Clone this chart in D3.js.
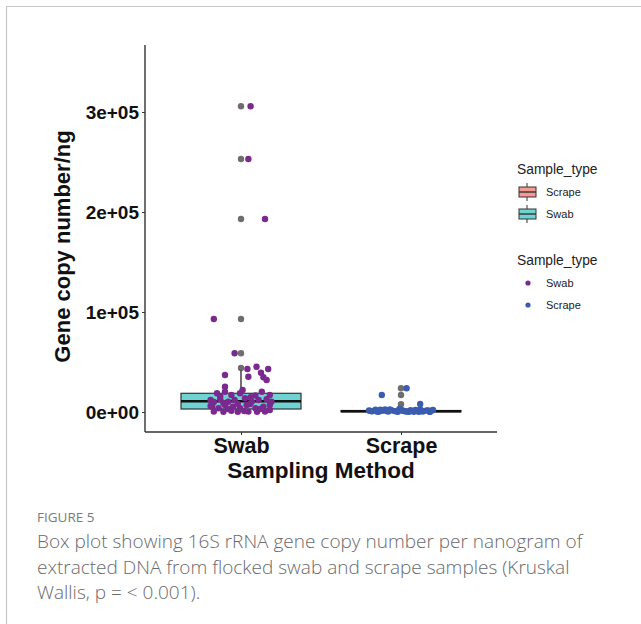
<!DOCTYPE html>
<html>
<head>
<meta charset="utf-8">
<script src="https://cdn.jsdelivr.net/npm/d3@7"></script>
<style>
  html, body { margin: 0; padding: 0; background: #fff; }
  svg { display: block; }
</style>
</head>
<body>
<svg id="chart" width="641" height="624"></svg>
<script>
// Categories on the x axis (left to right)
const categories = ["Swab", "Scrape"];

// Box statistics per sampling method (gene copies / ng)
const boxStats = [
  { method: "Swab",   q1: 3000, median: 10700, q3: 18700, lower: 0, upper: 41500 },
  { method: "Scrape", q1: 200,  median: 700,   q3: 1500,  lower: 0, upper: 3200 }
];

// Outliers flagged by the boxplot
const swabOutliers   = [305700, 253000, 193000, 93000, 58700, 44000];
const scrapeOutliers = [23700, 17000, 7800];

// Individual samples: value and horizontal jitter (in category units)
const swabValues = [305700, 253000, 193000, 93000, 58700, 43000, 45300, 39300, 43000, 37000,
  35300, 32000, 34700, 25300, 18700, 20300, 17000, 18700, 20300, 17000,
  12000, 12700, 10300, 12000, 13700, 10300, 12000, 12700, 10300, 5300,
  3700, 7000, 5300, 3700, 7000, 3700, 5300, 7000, 400, 200,
  1300, 200, 400, 200, 400, 10000, 22000, 16500, 8000, 15800,
  3000, 3000, 8000, 1000, 6000, 2000, 14800, 9000];
const swabJitter = [0.06, 0.046, 0.15, -0.17, -0.04, 0.04, 0.097, 0.125, 0.17, -0.10,
  0.046, 0.16, 0.14, -0.10, -0.15, -0.10, -0.06, -0.006, 0.13, 0.18,
  -0.19, -0.13, -0.08, -0.04, 0.025, 0.067, 0.11, 0.16, 0.19, -0.18,
  -0.14, -0.10, -0.05, -0.006, 0.035, 0.09, 0.14, 0.18, -0.17, -0.11,
  -0.06, -0.02, 0.046, 0.10, 0.15, -0.17, 0.01, 0.09, -0.02, -0.13,
  0.12, -0.08, 0.056, 0.02, -0.19, 0.18, 0.06, -0.11];

const scrapeValues = [23700, 17000, 8000, 1500, 800, 2200, 300, 1200, 2600, 500,
  1800, 900, 200, 2400, 1100, 600, 1900, 300, 1400, 2800,
  700, 1600, 100, 2100, 1000, 400, 1700, 2500, 800, 1300,
  200, 2000, 600, 1500, 3000, 900, 300, 1200, 2300, 500];
const scrapeJitter = [0.035, -0.12, 0.12, -0.20, -0.18, -0.16, -0.14, -0.12, -0.10, -0.08,
  -0.06, -0.04, -0.02, 0.0, 0.02, 0.04, 0.06, 0.08, 0.10, 0.12,
  0.14, 0.16, 0.18, 0.20, -0.19, -0.15, -0.11, -0.07, -0.03, 0.01,
  0.05, 0.09, 0.13, 0.17, -0.01, -0.09, 0.11, 0.19, -0.13, 0.03];

// y-axis tick values and labels
const yTicks = [0, 100000, 200000, 300000];
const yTickLabels = ["0e+00", "1e+05", "2e+05", "3e+05"];

// Legend entries
const boxLegend = ["Scrape", "Swab"];
const pointLegend = ["Swab", "Scrape"];

const boxFill   = { Swab: "#6FD3D3", Scrape: "#F49A96" };
const pointFill = { Swab: "#7A2A8E", Scrape: "#3B5DAF" };
const outlierFill = "#6E6E6E";

const captionLines = [
  "Box plot showing 16S rRNA gene copy number per nanogram of",
  "extracted DNA from flocked swab and scrape samples (Kruskal",
  "Wallis, p = < 0.001)."
];

const svg = d3.select("#chart");
const sans = "Liberation Sans, Arial, sans-serif";

// Figure frame
svg.append("path")
  .attr("d", "M6.5,700 V6.5 H700")
  .attr("fill", "none").attr("stroke", "#c8c8c8").attr("stroke-width", 1.2);

// Panel geometry
const panel = { left: 145, right: 497, top: 45, bottom: 432 };

// Discrete x scale with 0.6 category units of space at each end
const x = d3.scalePoint()
  .domain(categories)
  .range([panel.left, panel.right])
  .padding(0.6);
const step = x.step();

const y = d3.scaleLinear()
  .domain([-20000, 367000])
  .range([panel.bottom, panel.top]);

// Axes
const yAxis = d3.axisLeft(y)
  .tickValues(yTicks)
  .tickFormat((d, i) => yTickLabels[i])
  .tickSize(3).tickPadding(3);

const xAxis = d3.axisBottom(x).tickSize(3).tickPadding(3);

const gy = svg.append("g")
  .attr("transform", `translate(${panel.left},0)`)
  .call(yAxis);
gy.select(".domain").attr("d", `M0,${panel.top}V${panel.bottom}`).attr("stroke", "#333").attr("stroke-width", 1.4);
gy.selectAll(".tick line").attr("stroke", "#333");
gy.selectAll(".tick text")
  .attr("font-family", sans)
  .attr("font-weight", "bold").attr("font-size", 19).attr("fill", "#111");

const gx = svg.append("g")
  .attr("transform", `translate(0,${panel.bottom})`)
  .call(xAxis);
gx.select(".domain").attr("d", `M${panel.left},0H${panel.right}`).attr("stroke", "#333").attr("stroke-width", 1.4);
gx.selectAll(".tick line").attr("stroke", "#333");
gx.selectAll(".tick text")
  .attr("font-family", sans)
  .attr("font-weight", "bold").attr("font-size", 21.5).attr("fill", "#111")
  .attr("dy", "0.72em");

// Axis titles
svg.append("text")
  .attr("transform", `translate(70,${(panel.top + panel.bottom) / 2 + 8}) rotate(-90)`)
  .attr("text-anchor", "middle")
  .attr("font-family", sans)
  .attr("font-weight", "bold").attr("font-size", 22).attr("fill", "#111")
  .text("Gene copy number/ng");

svg.append("text")
  .attr("x", (panel.left + panel.right) / 2)
  .attr("y", 478)
  .attr("text-anchor", "middle")
  .attr("font-family", sans)
  .attr("font-weight", "bold").attr("font-size", 22.5).attr("fill", "#111")
  .text("Sampling Method");

// Boxplots
const boxW = 0.75 * step;
const plot = svg.append("g");

const outliers = { Swab: swabOutliers, Scrape: scrapeOutliers };

boxStats.forEach(b => {
  const cx = x(b.method);
  const g = plot.append("g");
  // outliers
  g.selectAll("circle.out").data(outliers[b.method]).join("circle")
    .attr("class", "out")
    .attr("cx", cx).attr("cy", d => y(d)).attr("r", 3.2)
    .attr("fill", outlierFill);
  // whiskers
  g.append("line").attr("x1", cx).attr("x2", cx)
    .attr("y1", y(b.q3)).attr("y2", y(b.upper))
    .attr("stroke", "#222").attr("stroke-width", 1.3);
  g.append("line").attr("x1", cx).attr("x2", cx)
    .attr("y1", y(b.q1)).attr("y2", y(b.lower))
    .attr("stroke", "#222").attr("stroke-width", 1.3);
  // box
  g.append("rect")
    .attr("x", cx - boxW / 2).attr("width", boxW)
    .attr("y", y(b.q3)).attr("height", Math.max(0, y(b.q1) - y(b.q3)))
    .attr("fill", boxFill[b.method]).attr("stroke", "#333").attr("stroke-width", 1.2);
  // median
  g.append("line")
    .attr("x1", cx - boxW / 2).attr("x2", cx + boxW / 2)
    .attr("y1", y(b.median)).attr("y2", y(b.median))
    .attr("stroke", "#111").attr("stroke-width", 2.6);
});

// Jittered sample points
const pts = [];
swabValues.forEach((v, i) => pts.push({ m: "Swab", v, j: swabJitter[i] }));
scrapeValues.forEach((v, i) => pts.push({ m: "Scrape", v, j: scrapeJitter[i] }));

plot.selectAll("circle.pt").data(pts).join("circle")
  .attr("class", "pt")
  .attr("cx", d => x(d.m) + d.j * step)
  .attr("cy", d => y(d.v))
  .attr("r", 3.2)
  .attr("fill", d => pointFill[d.m]);

// Legends
const lg = svg.append("g").attr("font-family", sans);
lg.append("text").attr("x", 517).attr("y", 174).attr("font-size", 13.8).attr("fill", "#222").text("Sample_type");
boxLegend.forEach((k, i) => {
  const ky = 185 + i * 22;
  const kg = lg.append("g");
  kg.append("line").attr("x1", 527).attr("x2", 527).attr("y1", ky - 2).attr("y2", ky + 16).attr("stroke", "#333").attr("stroke-width", 1);
  kg.append("rect").attr("x", 519).attr("y", ky + 2).attr("width", 17).attr("height", 10)
    .attr("fill", boxFill[k]).attr("stroke", "#333").attr("stroke-width", 1);
  kg.append("line").attr("x1", 519).attr("x2", 536).attr("y1", ky + 7).attr("y2", ky + 7).attr("stroke", "#333").attr("stroke-width", 1.4);
  kg.append("text").attr("x", 546).attr("y", ky + 11).attr("font-size", 11).attr("fill", "#222").text(k);
});

lg.append("text").attr("x", 517).attr("y", 265).attr("font-size", 13.8).attr("fill", "#222").text("Sample_type");
pointLegend.forEach((k, i) => {
  const ky = 283 + i * 22;
  lg.append("circle").attr("cx", 528).attr("cy", ky).attr("r", 2.6).attr("fill", pointFill[k]);
  lg.append("text").attr("x", 546).attr("y", ky + 4).attr("font-size", 11).attr("fill", "#222").text(k);
});

// Caption
const cap = svg.append("g").attr("font-family", "'Open Sans', Lato, sans-serif");
cap.append("text").attr("x", 37).attr("y", 522).attr("font-size", 13.5).attr("fill", "#7a7a7a").text("FIGURE 5");
captionLines.forEach((t, i) => {
  cap.append("text").attr("x", 37).attr("y", 548 + i * 25.5)
    .attr("font-size", 19).attr("font-weight", 300).attr("fill", "#6a6a6a").text(t);
});
</script>
</body>
</html>
